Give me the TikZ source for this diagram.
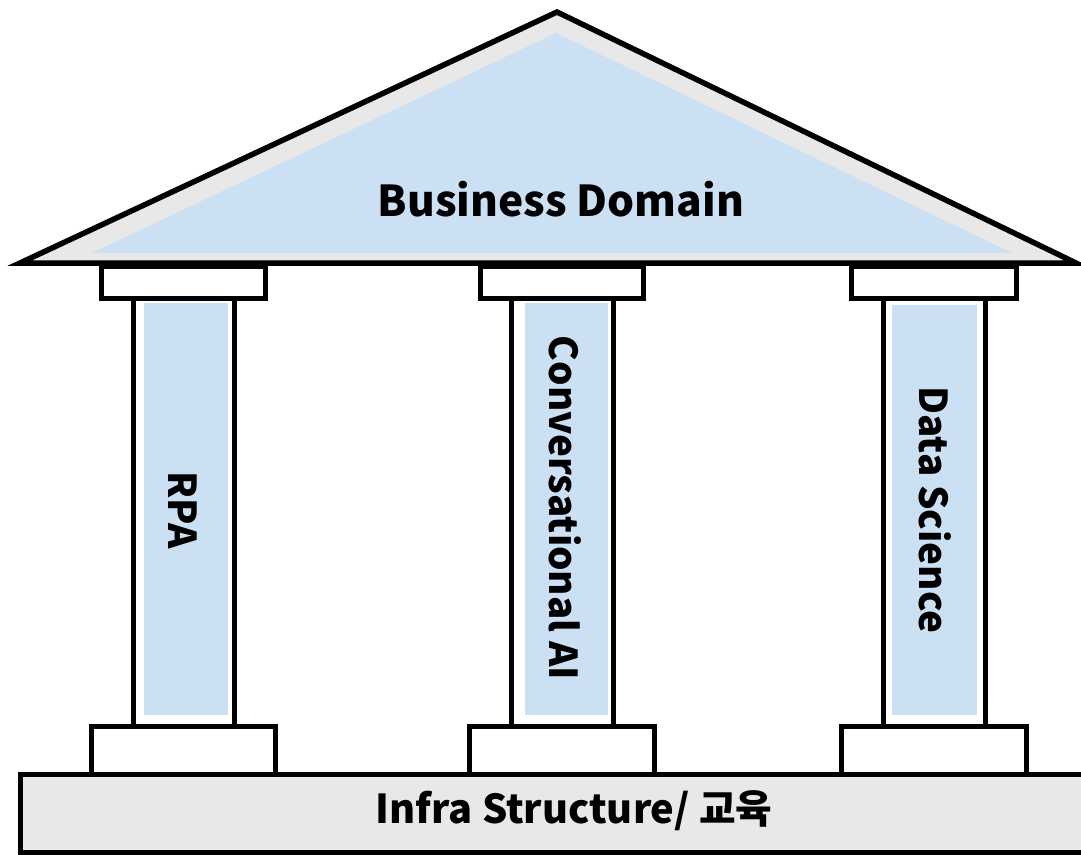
\documentclass[tikz,border=0pt]{standalone}
\usepackage{fontspec}
\setmainfont{Noto Sans CJK KR}
\definecolor{roofblue}{HTML}{CCE0F4}
\definecolor{bandgray}{HTML}{E8E8E8}
\begin{document}
\begin{tikzpicture}[x=1pt,y=-1pt,
  part/.style={draw=black,line width=5pt,line join=miter},
  lbl/.style={inner sep=0pt,font=\bfseries},
  vlbl/.style={lbl,rotate=-90,anchor=base,font=\bfseries\fontsize{38.5}{38.5}\selectfont}]
\useasboundingbox (0,0) rectangle (1081,854);
% roof
\filldraw[part,fill=bandgray,line width=5.5pt,miter limit=20] (20,263) -- (557,12) -- (1076,263) -- cycle;
\fill[roofblue] (92,253) -- (556,33) -- (1012,253) -- cycle;
% capitals
\draw[part,fill=white] (101,266) rectangle (265,298);
\draw[part,fill=white] (480,266) rectangle (643,298);
\draw[part,fill=white] (851,266) rectangle (1016,298);
% shafts
\fill[roofblue] (144,303) rectangle (228,715);
\fill[roofblue] (525,303) rectangle (608,715);
\fill[roofblue] (892,305) rectangle (977,715);
\draw[part] (133,298) -- (133,726) (234,298) -- (234,726);
\draw[part] (511,298) -- (511,726) (613,298) -- (613,726);
\draw[part] (883,298) -- (883,726) (985,298) -- (985,726);
% bases
\draw[part,fill=white] (91,726) rectangle (275,774);
\draw[part,fill=white] (469,726) rectangle (654,774);
\draw[part,fill=white] (841,726) rectangle (1026,774);
% slab
\draw[part,fill=bandgray] (20,774) rectangle (1095,852);
% labels
\node[lbl,anchor=base,font=\bfseries\fontsize{42.5}{42.5}\selectfont] (roof) at (561,216) {Business Domain};
\node[vlbl] (rpa) at (168,510) {RPA};
\node[vlbl] (cai) at (549,508) {Conversational AI};
\node[vlbl] (ds) at (919,510) {Data Science};
\node[lbl,anchor=base,font=\bfseries\fontsize{39.8}{39.8}\selectfont] (infra) at (574,823) {Infra Structure/ 교육};
\end{tikzpicture}
\end{document}
